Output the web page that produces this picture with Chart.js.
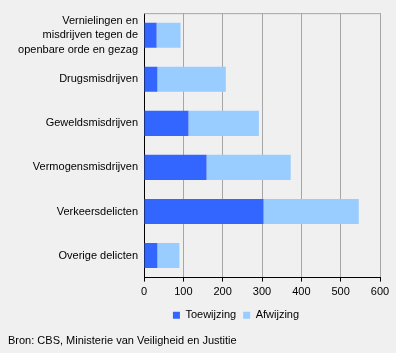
<!DOCTYPE html>
<html>
<head>
<title>Toewijzing en afwijzing</title>
<script src="https://cdn.jsdelivr.net/npm/chart.js@4.4.0/dist/chart.umd.min.js"></script>
<style>
    body { margin: 0; background: #f0f0f0; }
    .wrap { width: 396px; height: 353px; }
</style>
</head>
<body>
<div class="wrap"><canvas id="myChart" width="396" height="353"></canvas></div>
<script>
    var categories = [
        ["Vernielingen en", "misdrijven tegen de", "openbare orde en gezag"],
        "Drugsmisdrijven",
        "Geweldsmisdrijven",
        "Vermogensmisdrijven",
        "Verkeersdelicten",
        "Overige delicten"
    ];
    var toewijzing = [32, 34, 113, 159, 304, 34];
    var afwijzing = [61, 174, 179, 214, 242, 56];
    var xTicks = [0, 100, 200, 300, 400, 500, 600];

    Chart.defaults.font.family = "'Liberation Sans', Arial, sans-serif";
    Chart.defaults.font.size = 11;
    Chart.defaults.color = "#000";

    // grey line along the top of the plot area, legend nudged under the plot
    var extras = {
        id: 'extras',
        afterLayout: function(chart){
            var lg = chart.legend;
            lg.left += 42;
            lg.right += 42;
        },
        afterDraw: function(chart){
            var a = chart.chartArea;
            var ctx = chart.ctx;
            ctx.save();
            ctx.strokeStyle = '#a6a6a6';
            ctx.lineWidth = 1;
            ctx.beginPath();
            ctx.moveTo(a.left, a.top + 0.5);
            ctx.lineTo(a.right, a.top + 0.5);
            ctx.stroke();
            ctx.restore();
        }
    };

    var ctx = document.getElementById("myChart").getContext("2d");
    var myBarChart = new Chart(ctx, {
        type: 'bar',
        data: {
            labels: categories,
            datasets: [
                { label: "Toewijzing", data: toewijzing, backgroundColor: "#3366ff" },
                { label: "Afwijzing", data: afwijzing, backgroundColor: "#99ccff" }
            ]
        },
        options: {
            indexAxis: 'y',
            responsive: false,
            animation: false,
            layout: { padding: { left: 8, right: 16, top: 12, bottom: 1 } },
            datasets: { bar: { categoryPercentage: 1, barPercentage: 0.57 } },
            scales: {
                x: {
                    stacked: true,
                    min: 0, max: 600,
                    afterBuildTicks: function(axis){
                        axis.ticks = xTicks.map(function(v){ return { value: v }; });
                    },
                    grid: { color: '#a6a6a6', tickColor: '#000', tickLength: 4 },
                    border: { color: '#000' },
                    ticks: { padding: 4, maxRotation: 0 }
                },
                y: {
                    stacked: true,
                    afterFit: function(axis){ axis.width = 136; },
                    grid: { drawOnChartArea: false, drawTicks: false },
                    border: { color: '#000' },
                    ticks: { padding: 6, autoSkip: false, font: { lineHeight: 1.3 } }
                }
            },
            plugins: {
                legend: {
                    position: 'bottom',
                    labels: { boxWidth: 7, boxHeight: 7, padding: 7 }
                },
                subtitle: {
                    display: true,
                    position: 'bottom',
                    align: 'start',
                    text: 'Bron: CBS, Ministerie van Veiligheid en Justitie',
                    padding: { top: 4, bottom: 4 }
                },
                tooltip: { enabled: false }
            }
        },
        plugins: [extras]
    });
</script>
</body>
</html>
